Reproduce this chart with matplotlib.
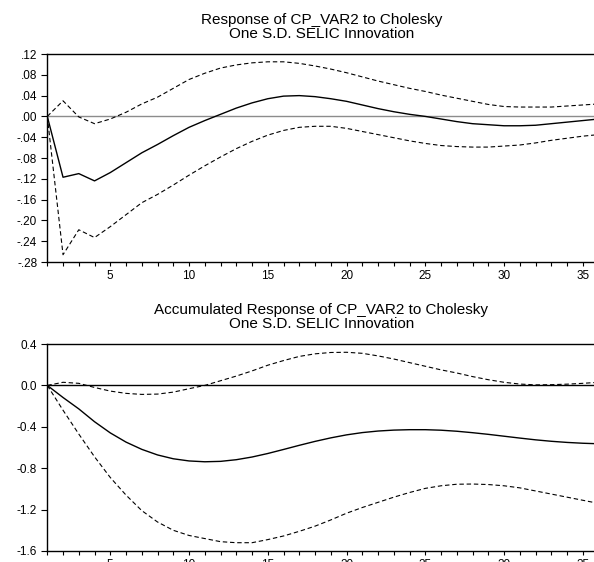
import numpy as np
import matplotlib
matplotlib.use("Agg")
import matplotlib.pyplot as plt
from matplotlib.ticker import MultipleLocator, FuncFormatter

plt.rcParams['font.family'] = ['Liberation Sans', 'DejaVu Sans']

periods = np.arange(1, 37)

# Response of CP_VAR2 to a SELIC shock
resp_mid = [0, -0.117, -0.110, -0.124, -0.108, -0.089, -0.070, -0.054, -0.037, -0.021,
            -0.008, 0.004, 0.016, 0.026, 0.034, 0.039, 0.040, 0.038, 0.034, 0.029,
            0.022, 0.015, 0.009, 0.004, 0.000, -0.005, -0.010, -0.014, -0.016, -0.018,
            -0.018, -0.017, -0.014, -0.011, -0.008, -0.005]
resp_up = [0, 0.030, -0.001, -0.014, -0.005, 0.008, 0.024, 0.037, 0.054, 0.071,
           0.083, 0.093, 0.099, 0.103, 0.105, 0.105, 0.102, 0.097, 0.091, 0.084,
           0.076, 0.068, 0.061, 0.054, 0.048, 0.041, 0.035, 0.029, 0.023, 0.019,
           0.018, 0.018, 0.018, 0.020, 0.022, 0.024]
resp_lo = [0, -0.266, -0.218, -0.233, -0.212, -0.189, -0.166, -0.150, -0.132, -0.113,
           -0.095, -0.078, -0.062, -0.048, -0.036, -0.027, -0.021, -0.019, -0.019, -0.023,
           -0.029, -0.035, -0.041, -0.047, -0.052, -0.056, -0.058, -0.059, -0.059, -0.057,
           -0.055, -0.051, -0.046, -0.042, -0.038, -0.035]

# Accumulated response
acc_mid = [0, -0.117, -0.227, -0.351, -0.459, -0.548, -0.618, -0.672, -0.709, -0.730,
           -0.738, -0.734, -0.718, -0.692, -0.658, -0.619, -0.579, -0.541, -0.507, -0.478,
           -0.456, -0.441, -0.432, -0.428, -0.428, -0.433, -0.443, -0.457, -0.473, -0.491,
           -0.509, -0.526, -0.540, -0.551, -0.559, -0.564]
acc_up = [0, 0.030, 0.020, -0.020, -0.055, -0.077, -0.087, -0.084, -0.065, -0.032,
          0.000, 0.045, 0.090, 0.140, 0.195, 0.240, 0.280, 0.305, 0.318, 0.320,
          0.310, 0.285, 0.255, 0.220, 0.185, 0.150, 0.120, 0.085, 0.055, 0.030,
          0.013, 0.005, 0.007, 0.012, 0.020, 0.030]
acc_lo = [0, -0.24, -0.47, -0.69, -0.89, -1.06, -1.21, -1.32, -1.40, -1.45,
          -1.48, -1.51, -1.52, -1.52, -1.49, -1.455, -1.41, -1.36, -1.30, -1.235,
          -1.18, -1.13, -1.08, -1.035, -0.995, -0.97, -0.955, -0.953, -0.958, -0.97,
          -0.99, -1.02, -1.05, -1.08, -1.11, -1.14]

top_title = ["Response of CP_VAR2 to Cholesky", "One S.D. SELIC Innovation"]
bot_title = ["Accumulated Response of CP_VAR2 to Cholesky", "One S.D. SELIC Innovation"]


def fmt_top(v, pos):
    s = f"{v:.2f}"
    return s.replace("0.", ".", 1)


def fmt_bot(v, pos):
    return f"{v:.1f}"


def draw_panel(ax, mid, up, lo, zero_color, ylim, ystep, yfmt):
    ax.axhline(0, color=zero_color, lw=1.0, zorder=1)
    ax.plot(periods, mid, color='black', lw=1.0, zorder=3)
    ax.plot(periods, up, color='black', lw=0.8, ls=(0, (4, 2.5)), zorder=3)
    ax.plot(periods, lo, color='black', lw=0.8, ls=(0, (4, 2.5)), zorder=3)
    ax.set_xlim(1, 35.71)
    ax.set_ylim(*ylim)
    ax.xaxis.set_major_locator(MultipleLocator(5))
    ax.xaxis.set_minor_locator(MultipleLocator(1))
    ax.yaxis.set_major_locator(MultipleLocator(ystep))
    ax.yaxis.set_major_formatter(FuncFormatter(yfmt))
    ax.tick_params(axis='both', which='both', direction='out', labelsize=8.5,
                   width=0.8, colors='black')
    ax.tick_params(axis='y', length=4.3, pad=3)
    ax.tick_params(axis='x', which='both', length=3, pad=2.5)
    ax.spines['right'].set_visible(False)
    for s in ['left', 'bottom', 'top']:
        ax.spines[s].set_linewidth(1.0)


fig = plt.figure(figsize=(5.94, 5.62), dpi=100)
ax1 = fig.add_axes([0.0796, 0.5338, 0.9204, 0.3701])
ax2 = fig.add_axes([0.0796, 0.0196, 0.9204, 0.3683])

draw_panel(ax1, resp_mid, resp_up, resp_lo, '#8c8c8c', (-0.28, 0.12), 0.04, fmt_top)
draw_panel(ax2, acc_mid, acc_up, acc_lo, 'black', (-1.6, 0.4), 0.4, fmt_bot)

for lines, y0 in [(top_title, 20), (bot_title, 310)]:
    for i, line in enumerate(lines):
        fig.text(0.541, 1 - (y0 + 13.5 * i) / 562, line, ha='center', va='center',
                 fontsize=11)

fig.savefig("out.png", dpi=100)
